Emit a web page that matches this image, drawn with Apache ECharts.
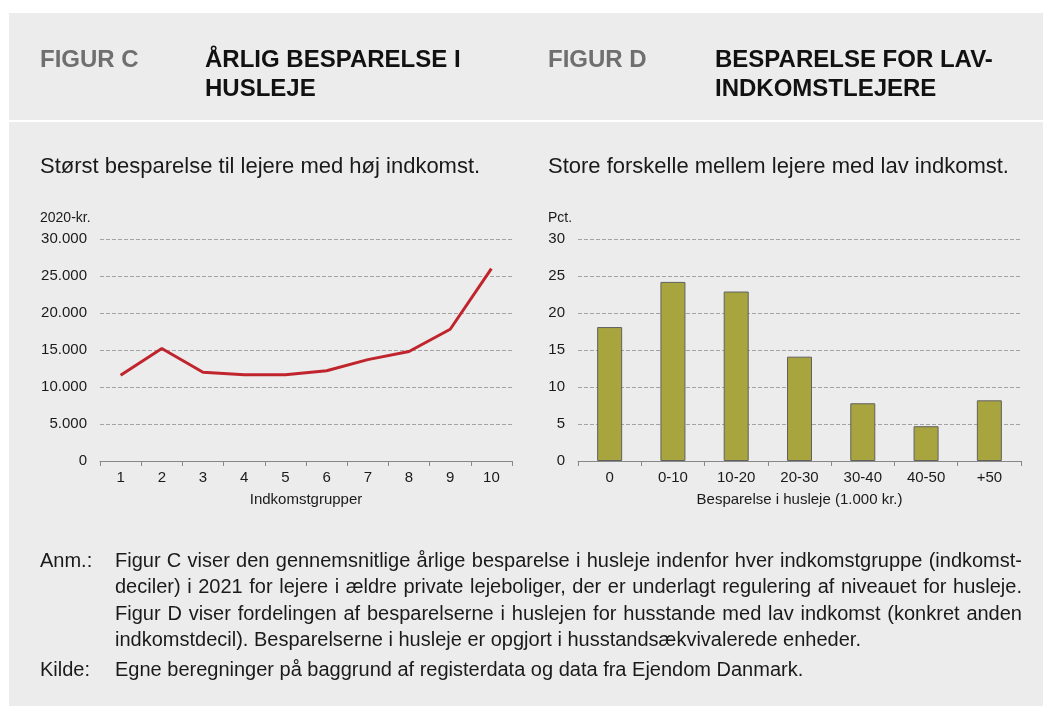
<!DOCTYPE html>
<html lang="da">
<head>
<meta charset="utf-8">
<title>Årlig besparelse i husleje</title>
<script src="https://cdn.jsdelivr.net/npm/echarts@6/dist/echarts.min.js"></script>
<style>
  html, body {
    margin: 0;
    padding: 0;
    background: #ffffff;
    font-family: Arial, "Liberation Sans", sans-serif;
    color: #1a1a1a;
  }
  .page {
    position: relative;
    width: 1043px;
    height: 706px;
    overflow: hidden;
  }
  .panel {
    position: absolute;
    left: 9px;
    right: 0;
    background: #ececec;
  }
  .panel-head { top: 13px; height: 107px; }
  .panel-body { top: 122px; bottom: 0; }

  .txt { position: absolute; white-space: nowrap; z-index: 2; }
  .fig-no {
    font-size: 24px;
    font-weight: bold;
    line-height: 29px;
    color: #6f6f6f;
  }
  .fig-title {
    font-size: 24px;
    font-weight: bold;
    line-height: 29px;
    color: #111;
  }
  .subtitle {
    font-size: 22px;
    line-height: 26px;
    color: #1a1a1a;
  }
  .note-label {
    font-size: 20px;
    line-height: 26.3px;
  }
  .note-text {
    position: absolute;
    left: 115px;
    width: 907px;
    font-size: 20px;
    line-height: 26.3px;
    text-align: justify;
    z-index: 2;
  }
  #chart {
    position: absolute;
    left: 0;
    top: 0;
    width: 1043px;
    height: 706px;
    z-index: 1;
  }
</style>
</head>
<body>
<div class="page">
  <div class="panel panel-head"></div>
  <div class="panel panel-body"></div>

  <div class="txt fig-no" style="left:40px; top:44px;">FIGUR C</div>
  <div class="txt fig-title" style="left:205px; top:44px;">ÅRLIG BESPARELSE I<br>HUSLEJE</div>
  <div class="txt fig-no" style="left:548px; top:44px;">FIGUR D</div>
  <div class="txt fig-title" style="left:715px; top:44px;">BESPARELSE FOR LAV-<br>INDKOMSTLEJERE</div>

  <div class="txt subtitle" style="left:40px; top:153px;">Størst besparelse til lejere med høj indkomst.</div>
  <div class="txt subtitle" style="left:548px; top:153px;">Store forskelle mellem lejere med lav indkomst.</div>

  <div id="chart"></div>

  <div class="txt note-label" style="left:40px; top:547px;">Anm.:</div>
  <div class="note-text" style="top:547px;">Figur C viser den gennemsnitlige årlige besparelse i husleje indenfor hver indkomstgruppe (indkomst-deciler) i 2021 for lejere i ældre private lejeboliger, der er underlagt regulering af niveauet for husleje. Figur D viser fordelingen af besparelserne i huslejen for husstande med lav indkomst (konkret anden indkomstdecil). Besparelserne i husleje er opgjort i husstandsækvivalerede enheder.</div>
  <div class="txt note-label" style="left:40px; top:656px;">Kilde:</div>
  <div class="txt note-label" style="left:115px; top:656px;">Egne beregninger på baggrund af registerdata og data fra Ejendom Danmark.</div>
</div>

<script>
// Figur C: gennemsnitlig årlig besparelse (2020-kr.) pr. indkomstgruppe
const incomeGroups = ['1', '2', '3', '4', '5', '6', '7', '8', '9', '10']
const savingsByGroup = [11600, 15200, 12000, 11650, 11650, 12200, 13700, 14800, 17800, 26000]

// Figur D: fordeling af besparelser (pct.) for lavindkomstlejere
const savingsBands = ['0', '0-10', '10-20', '20-30', '30-40', '40-50', '+50']
const shareByBand = [18.1, 24.2, 22.9, 14.1, 7.8, 4.7, 8.2]

const textColor = '#1a1a1a'
const axisColor = '#888888'
const gridColor = '#a3a3a3'

// tusindtalsseparator med punktum
const fmtThousands = (v) => String(v).replace(/\B(?=(\d{3})+(?!\d))/g, '.')

const chart = echarts.init(document.getElementById('chart'), null, { renderer: 'canvas' })

const baseX = (data, name) => ({
  type: 'category',
  data: data,
  name: name,
  nameLocation: 'middle',
  nameGap: 31,
  nameTextStyle: { color: textColor, fontSize: 15, fontFamily: 'Arial' },
  axisLine: { show: true, lineStyle: { color: axisColor, width: 1 } },
  axisTick: { show: true, length: 5, lineStyle: { color: axisColor } },
  axisLabel: { color: textColor, fontSize: 15, fontFamily: 'Arial', margin: 9, interval: 0 },
  splitLine: { show: false }
})

const baseY = (max, interval, formatter) => ({
  type: 'value',
  min: 0,
  max: max,
  interval: interval,
  axisLine: { show: false },
  axisTick: { show: false },
  axisLabel: { color: textColor, fontSize: 15, fontFamily: 'Arial', margin: 13, formatter: formatter },
  splitLine: { show: true, lineStyle: { color: gridColor, type: [4, 2], width: 1 } }
})

const option = {
  backgroundColor: 'transparent',
  animation: false,
  textStyle: { fontFamily: 'Arial' },
  graphic: [
    {
      type: 'text',
      left: 40,
      top: 211,
      style: { text: '2020-kr.', fill: textColor, font: '14px Arial' }
    },
    {
      type: 'text',
      left: 548,
      top: 211,
      style: { text: 'Pct.', fill: textColor, font: '14px Arial' }
    }
  ],
  grid: [
    { left: 100, right: 531, top: 239, bottom: 245 },
    { left: 578, right: 22, top: 239, bottom: 245 }
  ],
  xAxis: [
    Object.assign(baseX(incomeGroups, 'Indkomstgrupper'), { gridIndex: 0 }),
    Object.assign(baseX(savingsBands, 'Besparelse i husleje (1.000 kr.)'), { gridIndex: 1 })
  ],
  yAxis: [
    Object.assign(baseY(30000, 5000, fmtThousands), { gridIndex: 0 }),
    Object.assign(baseY(30, 5), { gridIndex: 1 })
  ],
  series: [
    {
      name: 'Besparelse',
      type: 'line',
      xAxisIndex: 0,
      yAxisIndex: 0,
      data: savingsByGroup,
      showSymbol: false,
      lineStyle: { color: '#c0252e', width: 3 },
      itemStyle: { color: '#c0252e' }
    },
    {
      name: 'Andel',
      type: 'bar',
      xAxisIndex: 1,
      yAxisIndex: 1,
      data: shareByBand,
      barWidth: 25,
      itemStyle: { color: '#a8a53f', borderColor: '#606060', borderWidth: 1 }
    }
  ]
}

chart.setOption(option)
</script>
</body>
</html>
